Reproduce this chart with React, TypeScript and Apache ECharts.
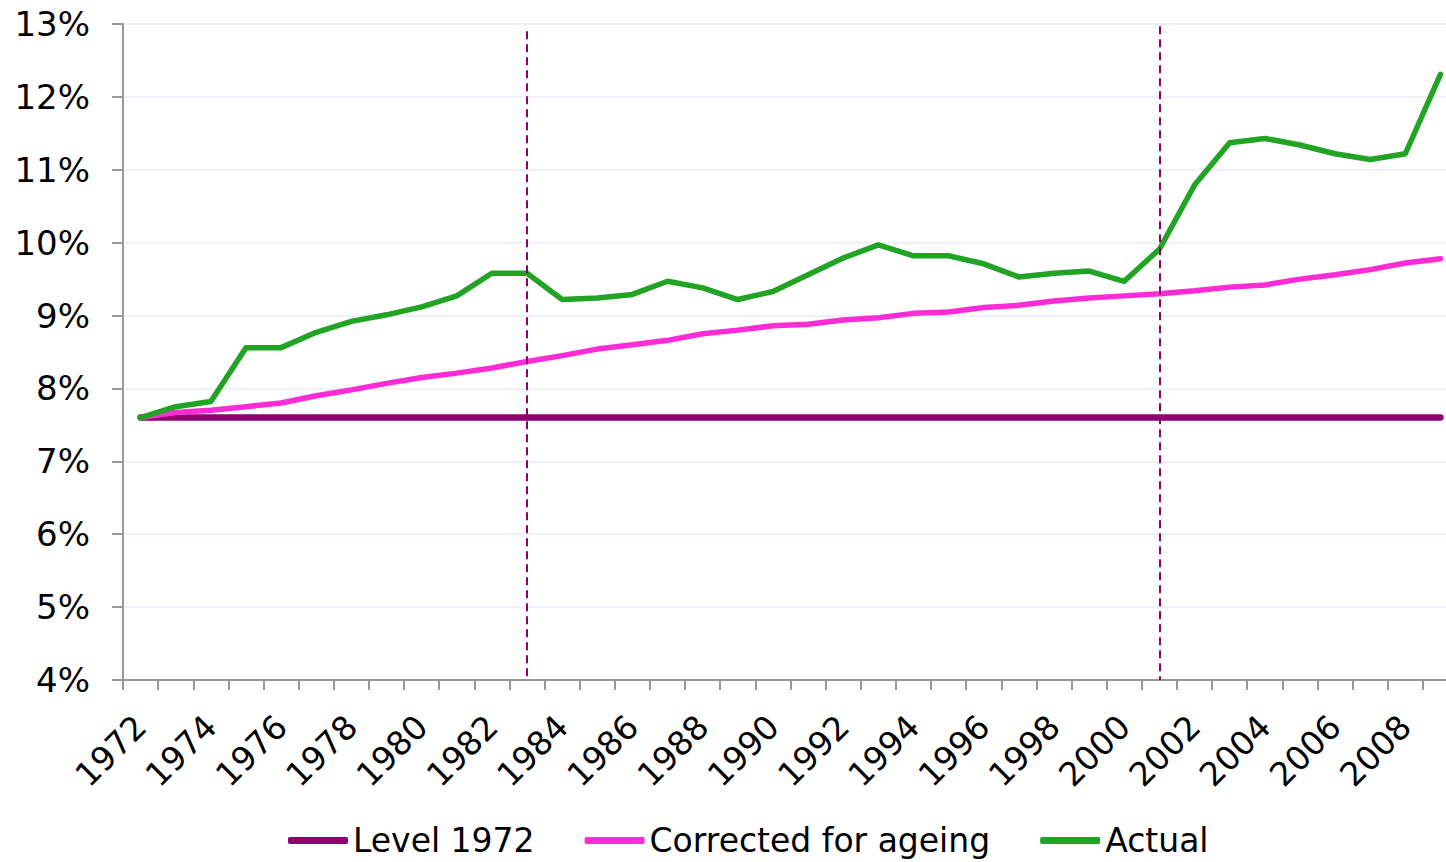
import React, { useEffect, useRef } from "react";
import * as echarts from "echarts";

const years: string[] = [];
for (let y = 1972; y <= 2009; y++) years.push(String(y));

const level1972 = [
  7.6, 7.6, 7.6, 7.6, 7.6, 7.6, 7.6, 7.6, 7.6, 7.6,
  7.6, 7.6, 7.6, 7.6, 7.6, 7.6, 7.6, 7.6, 7.6, 7.6,
  7.6, 7.6, 7.6, 7.6, 7.6, 7.6, 7.6, 7.6, 7.6, 7.6,
  7.6, 7.6, 7.6, 7.6, 7.6, 7.6, 7.6, 7.6,
];

const corrected = [
  7.6, 7.67, 7.7, 7.75, 7.8, 7.9, 7.98, 8.07, 8.15, 8.21,
  8.28, 8.37, 8.45, 8.54, 8.6, 8.66, 8.75, 8.8, 8.86, 8.88,
  8.94, 8.97, 9.03, 9.05, 9.11, 9.14, 9.2, 9.24, 9.27, 9.3,
  9.34, 9.39, 9.42, 9.5, 9.56, 9.63, 9.72, 9.78,
];

const actual = [
  7.6, 7.75, 7.82, 8.56, 8.56, 8.77, 8.92, 9.01, 9.12, 9.27,
  9.58, 9.58, 9.22, 9.24, 9.29, 9.47, 9.38, 9.22, 9.33, 9.56,
  9.79, 9.97, 9.82, 9.82, 9.71, 9.53, 9.58, 9.61, 9.47, 9.91,
  10.79, 11.37, 11.43, 11.34, 11.22, 11.14, 11.22, 12.31,
];

const markYears = ["1983", "2001"];
const markTops = [12.9, 12.97];

const FONT = "Verdana, 'DejaVu Sans', sans-serif";

export default function App() {
  const ref = useRef<HTMLDivElement>(null);
  useEffect(() => {
    if (!ref.current) return;
    const chart = echarts.init(ref.current, undefined, { renderer: "svg" });
    chart.setOption({
      animation: false,
      backgroundColor: "#ffffff",
      textStyle: { fontFamily: FONT },
      grid: { left: 123, top: 24, bottom: 182, right: 4, containLabel: false },
      legend: {
        left: 283,
        top: 819,
        icon: "roundRect",
        itemWidth: 60,
        itemHeight: 7,
        itemGap: 50,
        textStyle: { fontSize: 33, color: "#000", fontFamily: FONT },
        data: ["Level 1972", "Corrected for ageing", "Actual"],
      },
      xAxis: {
        type: "category",
        data: years,
        boundaryGap: true,
        axisLine: { lineStyle: { color: "#999", width: 2 } },
        axisTick: { show: true, interval: 0, length: 10, lineStyle: { color: "#999", width: 2 } },
        axisLabel: { interval: 1, rotate: 45, fontSize: 33, color: "#000", margin: 41, fontFamily: FONT },
        splitLine: { show: false },
      },
      yAxis: {
        type: "value",
        min: 4,
        max: 13,
        interval: 1,
        axisLine: { show: true, lineStyle: { color: "#999", width: 2 } },
        axisTick: { show: true, length: 11, lineStyle: { color: "#999", width: 2 } },
        axisLabel: { formatter: "{value}%", fontSize: 34, color: "#000", margin: 33, fontFamily: FONT },
        splitLine: { show: true, lineStyle: { color: "#eef2f8", width: 2 } },
      },
      series: [
        {
          name: "Level 1972",
          type: "line",
          data: level1972,
          symbol: "none",
          itemStyle: { color: "#8e006f" },
          lineStyle: { color: "#8e006f", width: 6.5, cap: "round" },
          markLine: {
            silent: true,
            symbol: "none",
            label: { show: false },
            lineStyle: { color: "#8e006f", width: 2, type: [8, 5] },
            data: markYears.map((y, i) => [{ coord: [y, markTops[i]] }, { coord: [y, 4] }]),
          },
        },
        {
          name: "Corrected for ageing",
          type: "line",
          data: corrected,
          symbol: "none",
          itemStyle: { color: "#ff2bd6" },
          lineStyle: { color: "#ff2bd6", width: 5.5, cap: "round" },
        },
        {
          name: "Actual",
          type: "line",
          data: actual,
          symbol: "none",
          itemStyle: { color: "#21a324" },
          lineStyle: { color: "#21a324", width: 5.5, cap: "round", join: "round" },
        },
      ],
    });
    return () => chart.dispose();
  }, []);
  return (
    <div
      ref={ref}
      style={{ position: "fixed", left: 0, top: 0, width: 1462, height: 862, background: "#fff" }}
    />
  );
}
